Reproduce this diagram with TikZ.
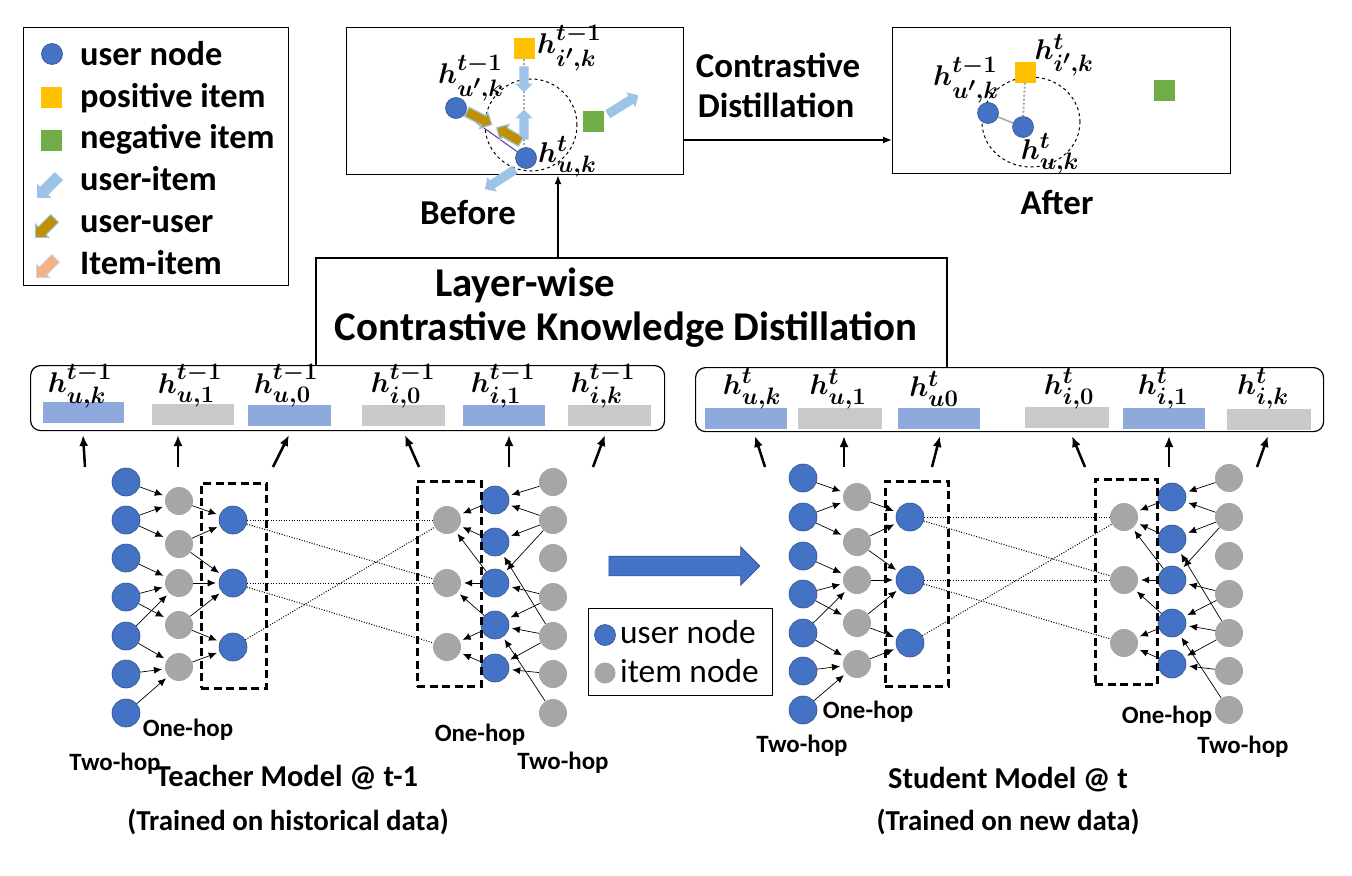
\RequirePackage{fix-cm}
\documentclass[tikz,border=0pt]{standalone}
\usepackage{amsmath}
\usepackage{fontspec}
\setmainfont{Carlito}
\usetikzlibrary{arrows.meta,shapes.arrows}
\definecolor{ublue}{HTML}{4472C4}
\definecolor{uedge}{HTML}{2F528F}
\definecolor{igrey}{HTML}{A6A6A6}
\definecolor{pyellow}{HTML}{FFC000}
\definecolor{ngreen}{HTML}{70AD47}
\definecolor{lblue}{HTML}{9DC3E6}
\definecolor{ubrown}{HTML}{BF9000}
\definecolor{salmon}{HTML}{F4B183}
\definecolor{eblue}{HTML}{8EA9DB}
\definecolor{egrey}{HTML}{C9C9C9}
\definecolor{purp}{HTML}{7030A0}
\newcommand{\hh}[2]{\scalebox{1.15}{$\boldsymbol{h^{#1}_{#2}}$}}
\tikzset{
  unode/.style={circle, fill=ublue, draw=uedge, line width=0.6bp, minimum size=28bp, inner sep=0},
  inode/.style={circle, fill=igrey, minimum size=28bp, inner sep=0},
  sunode/.style={circle, fill=ublue, draw=uedge, line width=0.6bp, minimum size=21bp, inner sep=0},
  sinode/.style={circle, fill=igrey, minimum size=21bp, inner sep=0},
  sq/.style={rectangle, minimum size=21bp, inner sep=0},
  lbl/.style={font=\fontsize{34.5}{40}\selectfont\bfseries, inner sep=0},
  ttl/.style={font=\fontsize{30.5}{37}\selectfont\bfseries, inner sep=0},
  ptl/.style={font=\fontsize{29}{35}\selectfont\bfseries, inner sep=0},
  big/.style={font=\fontsize{35}{42}\selectfont\bfseries, inner sep=0},
  huge/.style={font=\fontsize{41}{48}\selectfont\bfseries, inner sep=0},
  hop/.style={font=\fontsize{25}{30}\selectfont\bfseries, inner sep=0},
  reg/.style={font=\fontsize{33.5}{40}\selectfont, inner sep=0},
  mlbl/.style={font=\fontsize{24.88}{30}\selectfont, inner sep=0},
  gedge/.style={-{Latex[length=8bp,width=7bp]}, line width=0.7bp, shorten >=3bp},
  dotl/.style={line width=1bp, dash pattern=on 1bp off 1.6bp},
  uparr/.style={-{Latex[length=11bp,width=9bp]}, line width=2.5bp},
  dbox/.style={draw, line width=2.6bp, dash pattern=on 8bp off 4.5bp},
  emb/.style={minimum height=21bp, inner sep=0},
  blk/.style={single arrow, draw=none, inner xsep=0bp, inner ysep=4.5bp, single arrow head extend=4bp, minimum height=24bp},
  frame/.style={draw, line width=1.2bp, inner sep=0},
}
\begin{document}
\begin{tikzpicture}[x=1bp,y=-1bp]
\useasboundingbox (0,0) rectangle (1352,875);

% ---------------- legend (top left)
\node[frame, minimum width=265bp, minimum height=258bp, anchor=north west] (legend) at (23,27) {};
\node[sunode] (lu) at (52,54) {};
\node[sq, fill=pyellow] (lp) at (51,97) {};
\node[sq, fill=ngreen] (ln) at (51,140) {};
\node[blk, fill=lblue, rotate=-135, inner ysep=5.5bp, single arrow head extend=4.5bp, minimum height=31bp] (lui) at (50,185) {};
\node[blk, fill=ubrown, draw=lblue, line width=1bp, rotate=-135, inner ysep=5bp, minimum height=27bp] (luu) at (47,226) {};
\node[blk, fill=salmon, draw=lblue!60, line width=0.8bp, rotate=-135, inner ysep=5bp, minimum height=27bp] (lii) at (48,266) {};
\node[lbl, anchor=base west] (lut) at (80,65) {user node};
\node[lbl, anchor=base west] (lpt) at (80,107) {positive item};
\node[lbl, anchor=base west] (lnt) at (80,148) {negative item};
\node[lbl, anchor=base west] (luit) at (80,190) {user-item};
\node[lbl, anchor=base west] (luut) at (80,232) {user-user};
\node[lbl, anchor=base west] (liit) at (80,274) {Item-item};

% ---------------- before box
\node[frame, minimum width=337bp, minimum height=147bp, anchor=north west] (before) at (346,27) {};
\draw[dashed, line width=1bp] (531,125) circle[radius=46bp];
\node[sunode] (bu) at (526,158) {};
\node[sunode] (bv) at (456,108) {};
\node[sq, fill=pyellow] (bp) at (524,48) {};
\node[sq, fill=ngreen] (bn) at (593,121) {};
\draw[igrey, line width=2bp, dash pattern=on 2bp off 2bp] (bp.south) -- (bu.north -| bp.south);
\draw[purp, line width=1bp] (bv) -- (bu);
\node[blk, fill=lblue, rotate=-90, minimum height=26bp] (ba1) at (524,77) {};
\node[blk, fill=lblue, rotate=90, minimum height=30bp] (ba2) at (524,127) {};
\node[blk, fill=lblue, rotate=32, minimum height=36bp] (ba3) at (621,106) {};
\node[blk, fill=lblue, rotate=213, minimum height=36bp] (ba4) at (502,178) {};
\node[blk, fill=ubrown, draw=lblue, line width=1.2bp, rotate=-27, minimum height=28bp] (bb1) at (477,117) {};
\node[blk, fill=ubrown, draw=lblue, line width=1.2bp, rotate=150, minimum height=28bp] (bb2) at (511,136) {};
\node[mlbl, anchor=west] (bpl) at (537,48) {\hh{t-1}{i',k}};
\node[mlbl] (bvl) at (471,78) {\hh{t-1}{u',k}};
\node[mlbl, anchor=west] (bul) at (538,157) {\hh{t}{u,k}};
\node[big] (beft) at (468,213) {Before};

% ---------------- after box
\node[frame, minimum width=338bp, minimum height=146bp, anchor=north west] (after) at (892,27) {};
\draw[dashed, line width=1bp] (1031,122) ellipse[x radius=49bp, y radius=45bp];
\node[sunode] (au) at (1023,127) {};
\node[sunode] (av) at (988,113) {};
\node[sq, fill=pyellow] (ap) at (1025,72) {};
\node[sq, fill=ngreen] (an) at (1164,90) {};
\draw[igrey, line width=2bp, dash pattern=on 2bp off 2bp] (ap.south) -- (au.north);
\draw[igrey, line width=1.5bp] (av) -- (au);
\node[mlbl] (apl) at (1064,55) {\hh{t}{i',k}};
\node[mlbl] (avl) at (966,80) {\hh{t-1}{u',k}};
\node[mlbl] (aul) at (1050,154) {\hh{t}{u,k}};
\node[big] (aftt) at (1057,203) {After};

% contrastive distillation
\coordinate (cd1) at (683,140);
\coordinate (cd2) at (892,140);
\draw[-{Latex[length=9bp,width=7bp]}, line width=1.3bp] (cd1) -- (cd2);
\node[big] (cdt1) at (778,65) {Contrastive};
\node[big] (cdt2) at (776,105) {Distillation};

% ---------------- embedding bars
\node[draw, rounded corners=10bp, line width=1.2bp, minimum width=634bp, minimum height=65bp, anchor=north west, inner sep=0] (tbar) at (30,365) {};
\node[draw, rounded corners=10bp, line width=1.2bp, minimum width=628bp, minimum height=64bp, anchor=north west, inner sep=0] (sbar) at (695,367) {};

\node[emb, fill=eblue, minimum width=81bp] (te1) at (83,412) {};
\node[emb, fill=egrey, minimum width=82bp] (te2) at (193,414) {};
\node[emb, fill=eblue, minimum width=83bp] (te3) at (289,415.5) {};
\node[emb, fill=egrey, minimum width=83bp] (te4) at (403.5,415) {};
\node[emb, fill=eblue, minimum width=82bp] (te5) at (504,415) {};
\node[emb, fill=egrey, minimum width=83bp] (te6) at (609,415) {};
\node[mlbl] (tl1) at (80,386) {\hh{t-1}{u,k}};
\node[mlbl] (tl2) at (190,386) {\hh{t-1}{u,1}};
\node[mlbl] (tl3) at (286,386) {\hh{t-1}{u,0}};
\node[mlbl] (tl4) at (403,386) {\hh{t-1}{i,0}};
\node[mlbl] (tl5) at (503,386) {\hh{t-1}{i,1}};
\node[mlbl] (tl6) at (603,386) {\hh{t-1}{i,k}};

\node[emb, fill=eblue, minimum width=82bp] (se1) at (746,418) {};
\node[emb, fill=egrey, minimum width=84bp] (se2) at (840,418) {};
\node[emb, fill=eblue, minimum width=82bp] (se3) at (939,418) {};
\node[emb, fill=egrey, minimum width=84bp] (se4) at (1067,417) {};
\node[emb, fill=eblue, minimum width=82bp] (se5) at (1164,418) {};
\node[emb, fill=egrey, minimum width=84bp] (se6) at (1269,419) {};
\node[mlbl] (sl1) at (752,389) {\hh{t}{u,k}};
\node[mlbl] (sl2) at (838,389) {\hh{t}{u,1}};
\node[mlbl] (sl3) at (934,389) {\hh{t}{u0}};
\node[mlbl] (sl4) at (1069,389) {\hh{t}{i,0}};
\node[mlbl] (sl5) at (1163,389) {\hh{t}{i,1}};
\node[mlbl] (sl6) at (1263,389) {\hh{t}{i,k}};

% layer-wise bracket
\coordinate (bl) at (316,258);
\coordinate (br) at (947,258);
\coordinate (va) at (558,258);
\draw[line width=1.5bp] (bl |- tbar.north) -- (bl) -- (br) -- (br |- sbar.north);
\draw[-{Latex[length=9bp,width=7bp]}, line width=1.5bp] (va) -- (va |- before.south);
\node[huge] (lw1) at (525,285) {Layer-wise};
\node[huge] (lw2) at (626,330) {Contrastive Knowledge Distillation};

% ---------------- teacher graph
\foreach \i/\y in {1/482,2/520,3/558,4/597,5/636,6/674,7/713} {
  \node[unode] (TA\i) at (126,\y) {};
  \node[inode] (TF\i) at (553,\y) {};
}
\foreach \i/\y in {1/501,2/544,3/583,4/625,5/667} \node[inode] (TB\i) at (179,\y) {};
\foreach \i/\y in {1/500,2/542,3/583,4/625,5/668} \node[unode] (TE\i) at (495,\y) {};
\foreach \i/\y in {1/520,2/583,3/647} {
  \node[unode] (TC\i) at (233,\y) {};
  \node[inode] (TD\i) at (447,\y) {};
}
\node[dbox, minimum width=65bp, minimum height=205bp, anchor=north west, inner sep=0] (TL) at (200,482) {};
\node[dbox, minimum width=64bp, minimum height=205bp, anchor=north west, inner sep=0] (TR) at (416,480) {};

% ---------------- student graph
\foreach \i/\y in {1/478,2/517,3/556,4/594,5/633,6/671,7/710} {
  \node[unode] (SA\i) at (803,\y) {};
  \node[inode] (SF\i) at (1229,\y) {};
}
\foreach \i/\y in {1/497,2/542,3/580,4/623,5/664} \node[inode] (SB\i) at (857,\y) {};
\foreach \i/\y in {1/497,2/539,3/580,4/623,5/664} \node[unode] (SE\i) at (1172,\y) {};
\foreach \i/\y in {1/517,2/580,3/643} {
  \node[unode] (SC\i) at (910,\y) {};
  \node[inode] (SD\i) at (1124,\y) {};
}
\node[dbox, minimum width=63bp, minimum height=205bp, anchor=north west, inner sep=0] (SL) at (884,480) {};
\node[dbox, minimum width=62bp, minimum height=205bp, anchor=north west, inner sep=0] (SR) at (1094,478) {};

% edges for both graphs
\foreach \p in {T,S} {
  \foreach \a/\b in {A1/B1,A2/B1,A2/B2,A3/B3,A4/B3,A4/B4,A5/B3,A5/B5,A6/B5,A7/B5,
                     B1/C1,B2/C1,B2/C2,B3/C2,B4/C2,B4/C3,B5/C3,
                     E1/D1,E2/D1,E3/D1,E3/D2,E4/D2,E4/D3,E5/D3,
                     F1/E1,F2/E1,F2/E2,F2/E3,F4/E3,F4/E4,F5/E4,F5/E5,F6/E5,F7/E4,F5/E2}
    \draw[gedge] (\p\a) -- (\p\b);
  \foreach \a/\b in {C1/D1,C1/D2,C2/D2,C2/D3,C3/D1}
    \draw[dotl] (\p\a) -- (\p\b);
}

% arrows up to the bars
\foreach \n/\xa/\xb in {1/85/83,2/178/178,3/273/289,4/419/405,5/509/509,6/593/605}{
  \coordinate (tt\n) at (\xa,467);
  \coordinate (th\n) at (\xb,435);
  \draw[uparr] (tt\n) -- (th\n);
}
\foreach \n/\xa/\xb in {1/765/755,2/844/844,3/932/940,4/1085/1072,5/1169/1169,6/1257/1268}{
  \coordinate (st\n) at (\xa,467);
  \coordinate (sh\n) at (\xb,436);
  \draw[uparr] (st\n) -- (sh\n);
}

% hop labels
\node[hop] (th1) at (188,730) {One-hop};
\node[hop] (th2) at (115,764) {Two-hop};
\node[hop] (th3) at (480,735) {One-hop};
\node[hop] (th4) at (563,763) {Two-hop};
\node[hop] (sh1l) at (868,712) {One-hop};
\node[hop] (sh2l) at (802,746) {Two-hop};
\node[hop] (sh3l) at (1167,717) {One-hop};
\node[hop] (sh4l) at (1243,747) {Two-hop};

% titles
\node[ttl] (tt) at (287,778) {Teacher Model @ t-1};
\node[ptl] (ts) at (288,822) {(Trained on historical data)};
\node[ttl] (st) at (1008,780) {Student Model @ t};
\node[ptl] (ss) at (1008,822) {(Trained on new data)};

% centre: transfer arrow and small legend
\node[single arrow, fill=ublue, draw=uedge, line width=0.6bp, inner xsep=0bp, inner ysep=9.5bp, single arrow head extend=9.5bp, minimum height=151bp] (bigarr) at (679.5,566) {};
\node[draw, line width=1.2bp, minimum width=184bp, minimum height=87bp, anchor=north west, inner sep=0] (cleg) at (588,608) {};
\node[sunode] (clu) at (605,635) {};
\node[sinode] (cli) at (605,673) {};
\node[reg, anchor=base west] (clut) at (620,643) {user node};
\node[reg, anchor=base west] (clit) at (620,682) {item node};
\end{tikzpicture}
\end{document}
